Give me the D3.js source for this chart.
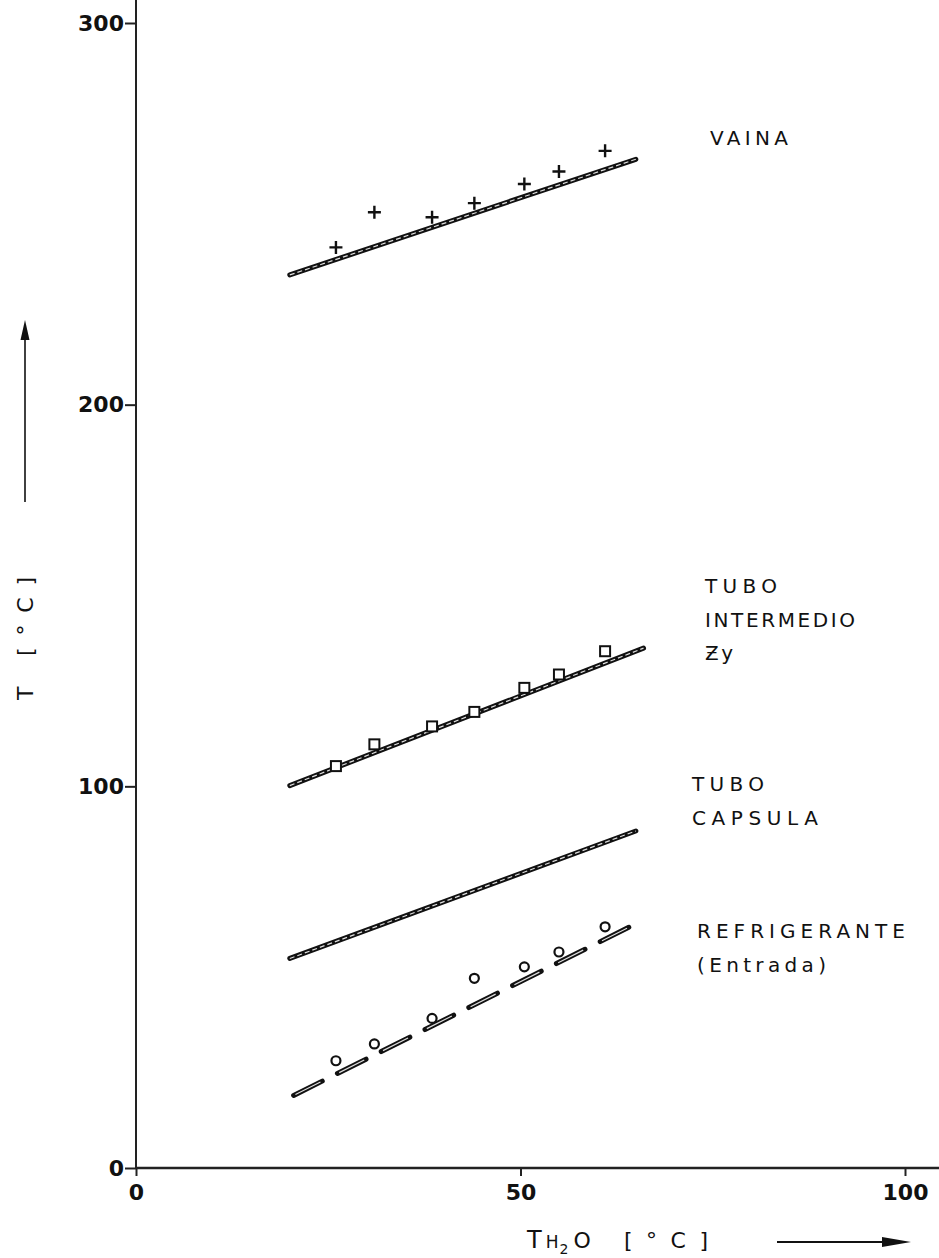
<!DOCTYPE html>
<html>
<head>
<meta charset="utf-8">
<script src="https://cdn.jsdelivr.net/npm/d3@7"></script>
<style>
  body { margin: 0; background: #fff; }
  svg { display: block; }
  text { font-family: "DejaVu Sans", sans-serif; fill: #111; }
</style>
</head>
<body>
<div id="chart"></div>
<script>
let width = 939,
    height = 1258;

// axis ticks
const xTicks = [0, 50, 100];
const yTicks = [0, 100, 200, 300];

// measured points (T_H2O in °C)
const waterTemp = [26, 31, 38.5, 44, 50.5, 55, 61];
const vainaMeas = [241.2, 250.4, 249.1, 252.8, 257.8, 261.1, 266.5];
const intermedioMeas = [105.3, 111.0, 115.7, 119.5, 125.8, 129.3, 135.4];
const refrigMeas = [28.1, 32.5, 39.2, 49.7, 52.7, 56.6, 63.2];

// computed curves (start / end)
const vainaFitX = [20, 65],        vainaFit = [234, 264.3];
const intermedioFitX = [20, 66],   intermedioFit = [100.2, 136.2];
const capsulaFitX = [20, 65],      capsulaFit = [54.9, 88.3];
const refrigFitX = [20.5, 65],     refrigFit = [19.0, 64.0];

// curve labels
const vainaLabel = ["VAINA"];
const intermedioLabel = ["TUBO", "INTERMEDIO", "Ƶy"];
const capsulaLabel = ["TUBO", "CAPSULA"];
const refrigLabel = ["REFRIGERANTE", "(Entrada)"];

const x = d3.scaleLinear().domain([0, 100]).range([136, 905]);
const y = d3.scaleLinear().domain([0, 300]).range([1168, 23]);

const svg = d3.select("#chart").append("svg")
    .attr("width", width)
    .attr("height", height);

const line = d3.line().x(d => x(d[0])).y(d => y(d[1]));

// axes
svg.append("line")
    .attr("x1", x(0)).attr("x2", x(0))
    .attr("y1", 0).attr("y2", y(0))
    .attr("stroke", "#222").attr("stroke-width", 2);

svg.append("line")
    .attr("x1", x(0)).attr("x2", width)
    .attr("y1", y(0)).attr("y2", y(0))
    .attr("stroke", "#222").attr("stroke-width", 2.5);

const yAxis = svg.append("g")
    .attr("transform", `translate(${x(0)},0)`)
    .call(d3.axisLeft(y).tickValues(yTicks).tickSize(11).tickPadding(1).tickFormat(d3.format("d")));
yAxis.select(".domain").remove();
yAxis.selectAll(".tick line").attr("stroke", "#222").attr("stroke-width", 2);
yAxis.selectAll(".tick text")
    .attr("font-family", "DejaVu Sans")
    .attr("font-size", 22)
    .attr("font-weight", "bold")
    .attr("fill", "#111");

const xAxis = svg.append("g")
    .attr("transform", `translate(0,${y(0)})`)
    .call(d3.axisBottom(x).tickValues(xTicks).tickSize(8).tickPadding(8).tickFormat(d3.format("d")));
xAxis.select(".domain").remove();
xAxis.selectAll(".tick line").attr("stroke", "#222").attr("stroke-width", 2);
xAxis.selectAll(".tick text")
    .attr("font-family", "DejaVu Sans")
    .attr("font-size", 22)
    .attr("font-weight", "bold")
    .attr("fill", "#111");

// fitted lines
const drawFit = (fx, fy, dashed) => {
    const pts = fx.map((v, i) => [v, fy[i]]);
    svg.append("path")
        .datum(pts)
        .attr("d", line)
        .attr("fill", "none")
        .attr("stroke", "#111")
        .attr("stroke-width", 5)
        .attr("stroke-linecap", "round")
        .attr("stroke-dasharray", dashed ? "32 17" : null);
    svg.append("path")
        .datum(pts)
        .attr("d", line)
        .attr("fill", "none")
        .attr("stroke", "#ddd")
        .attr("stroke-width", 1.2)
        .attr("stroke-dasharray", dashed ? "28 21" : "5 3")
        .attr("stroke-dashoffset", dashed ? -2 : 0);
}

drawFit(vainaFitX, vainaFit, false);
drawFit(intermedioFitX, intermedioFit, false);
drawFit(capsulaFitX, capsulaFit, false);
drawFit(refrigFitX, refrigFit, true);

// measured markers
svg.append("g")
    .selectAll("path")
    .data(waterTemp.map((v, i) => [v, vainaMeas[i]]))
    .enter()
    .append("path")
    .attr("transform", d => `translate(${x(d[0])},${y(d[1])})`)
    .attr("d", "M-6.5,0H6.5M0,-6.5V6.5")
    .attr("stroke", "#111")
    .attr("stroke-width", 2.4)
    .attr("fill", "none");

svg.append("g")
    .selectAll("rect")
    .data(waterTemp.map((v, i) => [v, intermedioMeas[i]]))
    .enter()
    .append("rect")
    .attr("x", d => x(d[0]) - 5)
    .attr("y", d => y(d[1]) - 5)
    .attr("width", 10)
    .attr("height", 10)
    .attr("fill", "#fff")
    .attr("stroke", "#111")
    .attr("stroke-width", 2);

svg.append("g")
    .selectAll("circle")
    .data(waterTemp.map((v, i) => [v, refrigMeas[i]]))
    .enter()
    .append("circle")
    .attr("cx", d => x(d[0]))
    .attr("cy", d => y(d[1]))
    .attr("r", 4.5)
    .attr("fill", "#fff")
    .attr("stroke", "#111")
    .attr("stroke-width", 2.2);

// curve labels
const drawLabel = (lines, px, py, lengths) => {
    const t = svg.append("g");
    lines.forEach((s, i) => {
        t.append("text")
            .attr("x", px)
            .attr("y", py + i * 33.5)
            .attr("font-size", 20)
            .attr("textLength", lengths[i])
            .attr("lengthAdjust", "spacing")
            .text(s);
    });
}

drawLabel(vainaLabel, 710, 145, [78]);
drawLabel(intermedioLabel, 705, 593, [72, 150, 28]);
drawLabel(capsulaLabel, 692, 791, [72, 126]);
drawLabel(refrigLabel, 697, 938, [208, 129]);

// x axis title
const xt = svg.append("text")
    .attr("x", 527)
    .attr("y", 1248)
    .attr("font-size", 24);
xt.append("tspan").text("T");
xt.append("tspan").attr("dx", 4).attr("font-size", 17).text("H");
xt.append("tspan").attr("dx", 1).attr("dy", 6).attr("font-size", 14).text("2");
xt.append("tspan").attr("dx", 5).attr("dy", -6).attr("font-size", 22).text("O");

svg.append("text")
    .attr("x", 624)
    .attr("y", 1248)
    .attr("font-size", 22)
    .attr("textLength", 84)
    .attr("lengthAdjust", "spacing")
    .text("[°C]");

svg.append("line")
    .attr("x1", 777).attr("x2", 890)
    .attr("y1", 1242).attr("y2", 1242)
    .attr("stroke", "#111").attr("stroke-width", 2.2);
svg.append("path")
    .attr("d", "M882,1237L911,1242L882,1247Z")
    .attr("fill", "#111");

// y axis title
svg.append("text")
    .attr("transform", "translate(33,700) rotate(-90)")
    .attr("font-size", 22)
    .attr("textLength", 123)
    .attr("lengthAdjust", "spacing")
    .text("T  [°C]");

svg.append("line")
    .attr("x1", 25).attr("x2", 25)
    .attr("y1", 502).attr("y2", 335)
    .attr("stroke", "#111").attr("stroke-width", 1.6);
svg.append("path")
    .attr("d", "M20.5,340L25,320L29.5,340Z")
    .attr("fill", "#111");
</script>
</body>
</html>
